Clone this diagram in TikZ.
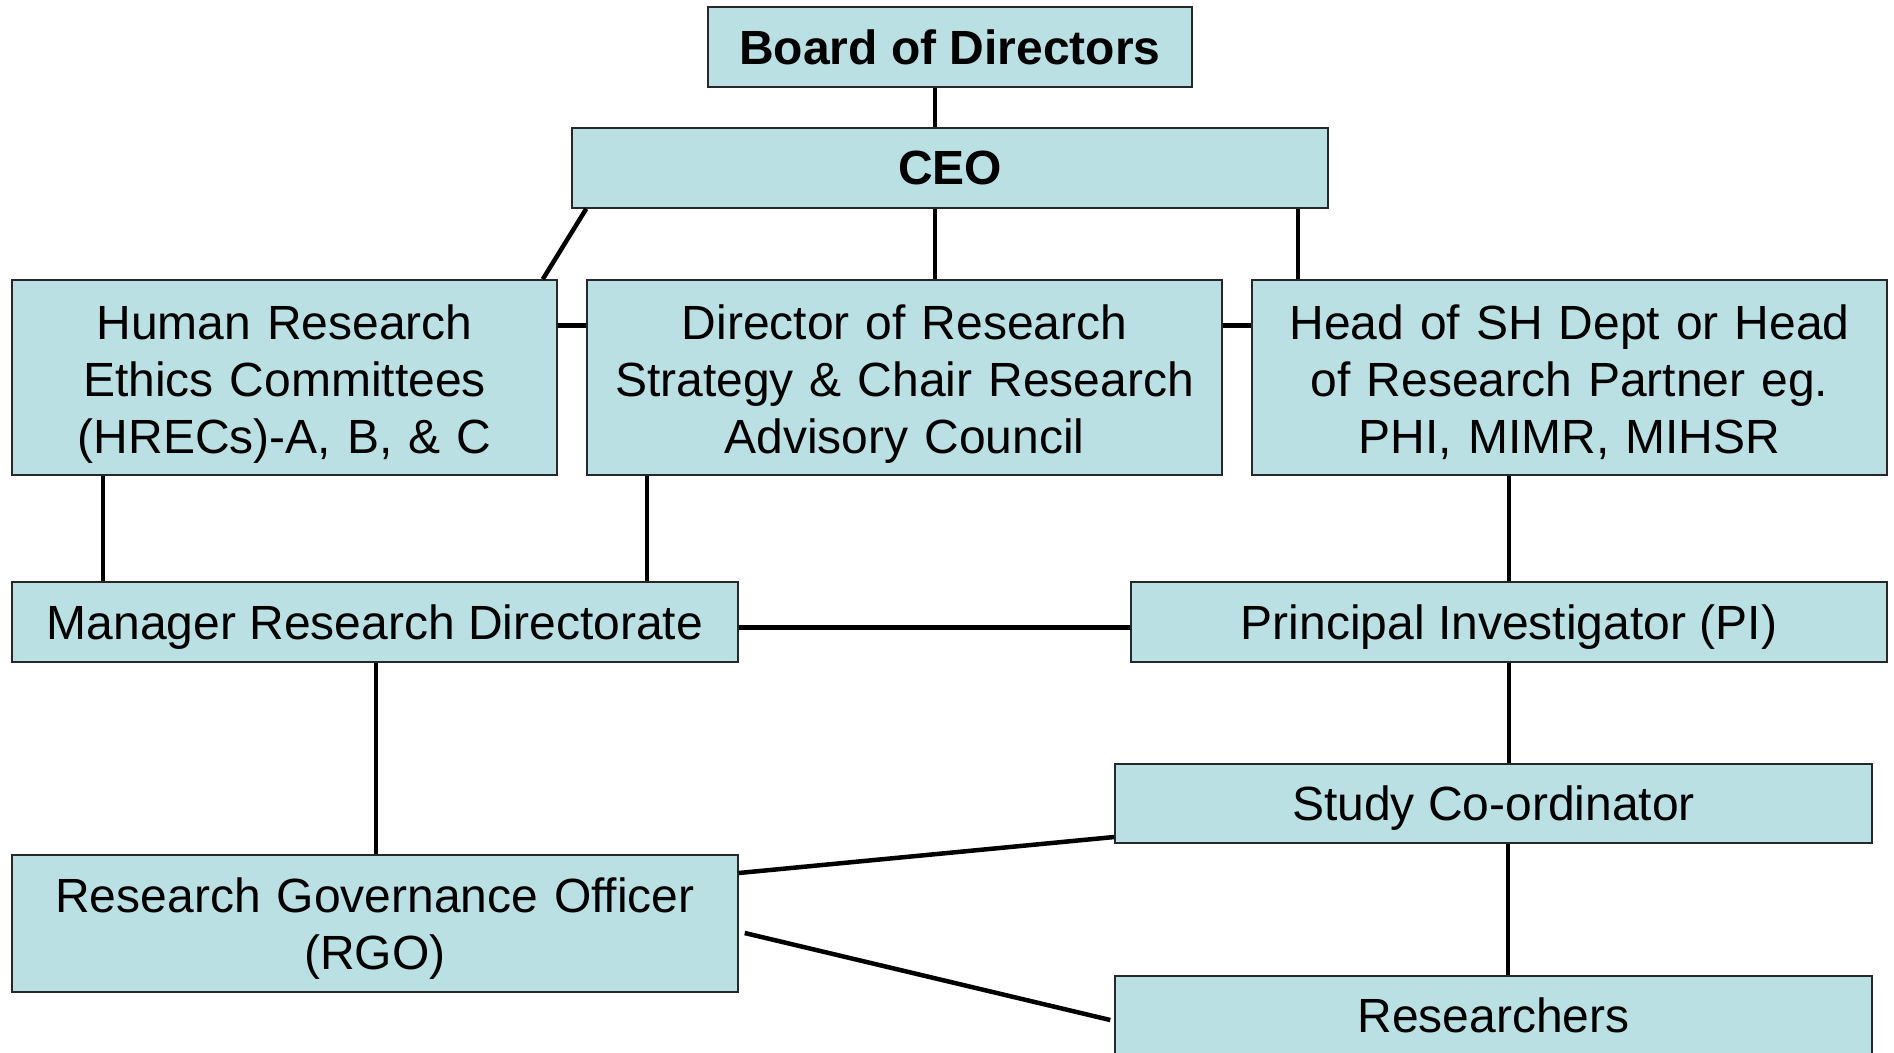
\documentclass[tikz,border=0pt]{standalone}
\usepackage{fontspec}
\setmainfont{Liberation Sans}
\definecolor{boxfill}{RGB}{187,224,227}
\definecolor{boxline}{RGB}{40,40,40}
\begin{document}
\begin{tikzpicture}[x=1pt,y=-1pt,
  orgbox/.style={draw=boxline, line width=1.5pt, fill=boxfill, rectangle, inner sep=0pt,
    align=center, text depth=-2pt, font=\fontsize{48}{57}\selectfont},
  threeline/.style={text height=35pt, text depth=112pt},
  twoline/.style={text height=38pt, text depth=60pt},
  conn/.style={line width=4.5pt, black}]
\useasboundingbox (0,0) rectangle (1894,1052);
\clip (0,0) rectangle (1894,1052);
\node[orgbox, minimum width=484pt, minimum height=80pt] (board) at (950,47) {\textbf{Board of Directors}};
\node[orgbox, minimum width=756pt, minimum height=80pt] (ceo) at (950,168) {\textbf{CEO}};
\node[orgbox, threeline, minimum width=545pt, minimum height=195pt, text width=545pt] (hrec) at (284.5,377.5) {Human Research\\Ethics Committees\\(HRECs)-A, B, \& C};
\node[orgbox, threeline, minimum width=635pt, minimum height=195pt, text width=635pt] (dir) at (904.5,377.5) {Director of Research\\Strategy \& Chair Research\\Advisory Council};
\node[orgbox, threeline, minimum width=635pt, minimum height=195pt, text width=635pt] (head) at (1569.5,377.5) {Head of SH Dept or Head\\of Research Partner eg.\\PHI, MIMR, MIHSR};
\node[orgbox, minimum width=726pt, minimum height=80pt] (mgr) at (375,622) {Manager Research Directorate};
\node[orgbox, minimum width=756pt, minimum height=80pt] (pi) at (1509,622) {Principal Investigator (PI)};
\node[orgbox, minimum width=757pt, minimum height=79pt] (study) at (1493.5,803.5) {Study Co-ordinator};
\node[orgbox, twoline, minimum width=726pt, minimum height=137pt, text width=726pt] (rgo) at (375,923.5) {Research Governance Officer\\(RGO)};
\node[orgbox, minimum width=757pt, minimum height=79pt] (res) at (1493.5,1015.5) {Researchers};
% connectors
\draw[conn] ([xshift=-15pt]board.south) -- ([xshift=-15pt]ceo.north);
\draw[conn] ([xshift=-15pt]ceo.south) -- ([xshift=30.5pt]dir.north);
\draw[conn] ([xshift=348pt]ceo.south) -- ([xshift=-271.5pt]head.north);
\draw[conn] ([xshift=15pt]ceo.south west) -- ([xshift=-15pt]hrec.north east);
\draw[conn] ([yshift=52pt]hrec.east) -- ([yshift=52pt]dir.west);
\draw[conn] ([yshift=52pt]dir.east) -- ([yshift=52pt]head.west);
\draw[conn] ([xshift=-181.5pt]hrec.south) -- ([xshift=-272pt]mgr.north);
\draw[conn] ([xshift=-257.5pt]dir.south) -- ([xshift=272pt]mgr.north);
\draw[conn] ([yshift=-5.5pt]mgr.east) -- ([yshift=-5.5pt]pi.west);
\draw[conn] ([xshift=1pt]mgr.south) -- ([xshift=1pt]rgo.north);
\draw[conn] ([xshift=-60.5pt]head.south) -- (pi.north);
\draw[conn] (pi.south) -- ([xshift=15.5pt]study.north);
\draw[conn] ([xshift=14.5pt]study.south) -- ([xshift=14.5pt]res.north);
\draw[conn] ([yshift=50.5pt]rgo.east) -- ([yshift=-33.5pt]study.west);
\draw[conn] ([xshift=6pt,yshift=-9.5pt]rgo.east) -- ([xshift=-4pt,yshift=-4.5pt]res.west);
\end{tikzpicture}
\end{document}
